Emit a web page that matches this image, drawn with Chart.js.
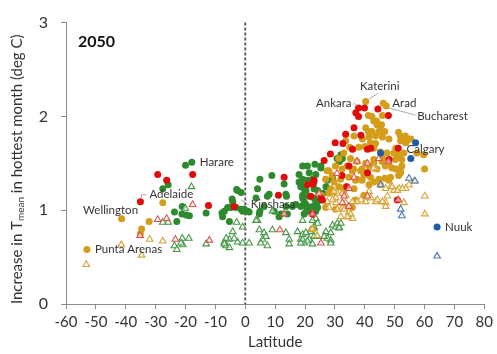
<!DOCTYPE html>
<html>
<head>
<meta charset="utf-8">
<script src="https://cdn.jsdelivr.net/npm/chart.js@4.4.1/dist/chart.umd.min.js"></script>
<style>
  html, body { margin: 0; padding: 0; background: #ffffff; }
  canvas { display: block; }
</style>
</head>
<body>
<canvas id="chart" width="497" height="354"></canvas>
<script>
// Warming of the hottest month by 2050 against city latitude.
// Each list holds [latitude, increase in deg C] pairs.

const greenCircles = [
  [-20,1.48],[-17.9,1.51],[-27.6,1.23],[-25.8,1.27],[-21.1,1.04],[-23.7,0.98],[-22.9,0.88],[-21.2,0.96],
  [-19.8,0.95],[-18.7,0.94],[-13.1,0.97],[-7.8,0.97],[-7,0.99],[-5.9,1.03],[-4.8,1.03],[-5.3,0.88],
  [-2.9,1.22],[-4.4,1.12],[-1.4,1.01],[-7.6,0.93],[-4.2,1.09],[-3.1,1.03],[-0.9,0.99],[0.8,0.99],
  [-2.6,1.21],[-1.4,1.19],[4.9,1.33],[8.9,1.37],[4.1,1.23],[7.4,1.15],[8,1.17],[3.6,1.13],[6.3,1.04],
  [4.7,0.96],[1.3,0.98],[-0.3,1.01],[4.9,0.99],[9.7,0.99],[11.9,0.96],[11.3,0.93],[14.1,0.96],
  [13.6,1.17],[13.8,1.15],[13,1.28],[13.6,1.04],[15.8,1.04],[16.9,1.06],[18,1.38],[18,1.30],[18.6,1.28],
  [19.7,1.23],[20.3,1.21],[20.8,1.47],[23.3,1.49],[21.4,1.40],[23.6,1.38],[25.3,1.47],[23,1.30],
  [24.2,1.21],[19.2,1.13],[20.3,1.06],[21.4,1.03],[19.7,0.96],[23.6,0.99],[24.2,1.09],[19.2,1.47],
  [25.3,1.45],[19.2,1.33],[20.8,1.32],[22.5,1.33],[18.6,1.25],[23,1.23],[19.2,1.16],[21.4,1.15],
  [23,1.13],[19.7,1.09],[23.6,1.09],[18.6,1.04],[20.8,1.03],[22.5,1.04],[24.2,1.03],[20.3,0.98],
  [22.5,0.98],[32,1.59],[32.5,1.55],[30.7,1.55],[29.2,1.35],[27.5,1.32],[31.5,1.52],[26,1.18],[27,1.25]
];

const redCircles = [
  [-29.3,1.38],[-26.3,1.32],[-17.6,1.38],[-35.1,1.09],[-12.3,1.05],[-3.7,1.04],[13,1.35],[11.1,1.16],
  [26.4,1.53],[20.8,1.27],[25.8,1.11],[23,1.32],[25.3,1.13],[22.5,0.96],[22.7,1.28],[21.9,1.15],
  [37.9,2.09],[39.9,2.09],[37,2.04],[37.9,2.00],[44.4,2.08],[47.9,2.01],[36.4,1.88],[33.6,1.81],
  [38.7,1.80],[30.1,1.72],[32.7,1.71],[40.9,1.65],[35.9,1.65],[34.7,1.47],[51.2,1.66],[40.9,1.40],
  [42,1.66],[48.1,1.54],[50.9,1.11],[32.4,1.37],[28.5,1.60],[34,1.25]
];

const orangeCircles = [
  [-27.6,1.08],[-41.4,0.91],[-32.2,0.88],[-34.7,0.80],[-35.1,0.75],[-53,0.58],
  [40.3,2.16],[46.2,2.14],[47.2,2.11],[41.2,2.01],[45.9,2.01],[43.9,1.95],[45.6,1.91],[40.3,1.88],
  [41.2,1.84],[45.2,1.85],[46.7,1.84],[51.3,1.83],[51.9,1.79],[53.6,1.79],[54.1,1.74],[41.4,1.78],
  [39.2,1.76],[41.9,1.72],[43.6,1.71],[36.4,1.79],[33.6,1.74],[35,1.67],[38,1.67],[40,1.68],[43,1.66],
  [45.2,1.62],[47.4,1.61],[49.7,1.61],[51.3,1.59],[52.4,1.54],[57.4,1.61],[59.7,1.59],[60,1.44],
  [33,1.61],[31.3,1.55],[35.2,1.55],[37.4,1.52],[40.3,1.50],[43,1.54],[45.8,1.52],[48,1.50],[50.2,1.54],
  [30.2,1.47],[32.4,1.44],[34.1,1.47],[36.3,1.44],[39.1,1.44],[41.4,1.47],[44.1,1.44],[46.9,1.47],
  [49.1,1.45],[52.4,1.47],[27.4,1.42],[29.1,1.37],[31.9,1.33],[34.7,1.35],[37.4,1.33],[39.7,1.37],
  [41.9,1.35],[44.7,1.33],[46.7,1.34],[48.6,1.35],[51.3,1.37],[51.9,1.42],[48,1.32],[43,1.30],
  [39.1,1.32],[36.9,1.32],[29.7,1.30],[26.9,1.33],[28,1.42],[35.8,1.42],[38.6,1.42],[31.3,1.25],
  [33.6,1.25],[36.4,1.23],[41.4,1.27],[45.2,1.27],[28.6,1.23],[28,1.18],[33,1.21],[29.2,1.20],
  [26.9,1.03],[30.2,1.01],[33,1.04],[35.8,1.03],[36.9,1.11],[39.7,1.16],[42.4,2.00],[43,1.95],
  [44.1,1.91],[42.4,1.84],[44.7,1.84],[43.6,1.79],[45.9,1.78],[48.1,1.76],[55.4,1.76],[52,1.74],
  [53.7,1.72],[50.4,1.66],[53.1,1.61],[51.3,1.57],[50.4,1.44],[52,1.40],[45.9,1.55],[43,1.50],
  [25.4,1.16],[22.5,0.80]
];

const blueCircles = [[57,1.72],[45.3,1.61],[55.4,1.55],[64.2,0.82]];

const redTriangles = [
  [-35.2,0.73],[-29.3,0.90],[-26.3,0.91],[-17.6,1.06],[-23.4,0.69],[-12,0.68],[11.6,0.79],[13,0.96],
  [25.3,0.65],[37.4,1.52],[40.9,1.50],[44.7,1.55],[47.9,1.52],[36.4,1.35],[33.1,1.15],[34.7,1.23],
  [32.5,1.08],[34.7,1.04],[40.9,1.15],[51.2,1.11],[22.5,0.96],[30.7,1.39],[24.7,1.18]
];

const orangeTriangles = [
  [-41.5,0.63],[-32,0.69],[-27.6,0.67],[-34.7,0.52],[-53.2,0.42],
  [43.7,1.44],[60.1,1.15],[60.1,0.96],[56.5,1.31],[54.8,1.27],[53.7,1.23],[51.5,1.23],[49.8,1.21],
  [48.7,1.25],[47,1.23],[47.6,1.15],[47,1.08],[45.9,1.09],[43.7,1.09],[42,1.13],[40.3,1.09],[41.4,1.20],
  [38.7,1.11],[37.5,1.09],[35.9,1.09],[33.6,1.16],[32.5,1.18],[30.8,1.18],[29.7,1.20],[30.3,1.13],
  [32.5,1.03],[30.8,1.01],[32,0.93],[34.7,0.93],[35.9,0.91],[34.7,0.98],[28,1.03],[53.1,1.08],
  [52.6,1.23],[50.9,1.21],[49.2,1.25],[44.2,1.11],[47,1.04],[43,1.45],[30.3,1.08],[29.2,1.11],
  [27.5,1.09],[33.6,1.08],[35.3,0.96],[34.2,0.93],[33.1,1.01],[22.4,0.80],[24,0.73]
];

const blueTriangles = [[52,1.01],[52.4,0.94],[64.2,0.51],[54.8,1.34],[56.8,1.31],[45.3,1.27]];

const greenTriangles = [
  [-18,1.25],[-20.1,1.02],[-27.6,0.87],[-25.8,0.87],[-21.1,0.70],[-18.9,0.70],[-23.7,0.62],[-22.9,0.58],
  [-20.9,0.63],[-21.5,0.65],[-7,0.66],[-5.3,0.69],[-2.9,0.87],[-6.4,0.62],[-2.6,0.66],[-0.9,0.82],
  [-4.2,0.77],[-6.4,0.70],[-7,0.64],[-5.3,0.60],[-13.1,0.64],[-3.7,0.70],[-0.9,0.65],[1.3,0.65],
  [4.1,0.89],[4.7,0.79],[6.3,0.76],[5.8,0.69],[7.4,0.62],[9.1,0.79],[13.6,0.76],[14.7,0.69],[14.7,0.64],
  [17.5,0.77],[18.6,0.69],[19.7,0.65],[21.4,0.69],[22.5,0.64],[24.2,0.72],[23,0.81],[9.1,0.99],
  [3.6,0.89],[6.9,0.72],[5.2,0.65],[19.2,0.74],[22,0.79],[19.2,0.89],[23.6,0.91],[24.2,0.86],[23,0.82],
  [21.9,0.77],[20.3,0.76],[19.2,0.69],[20.8,0.67],[18.6,0.65],[23,0.72],[27,0.77],[28.6,0.76],
  [27.5,0.70],[28.6,0.68],[29.2,0.84],[30.3,0.82],[31.4,0.82],[30.8,0.86],[26.4,0.72],[22.5,0.89],
  [32,0.86],[31.4,0.81],[28.6,0.65]
];

// Named cities and the point each name belongs to
const cityNames = ['Harare','Adelaide','Wellington','Punta Arenas','Kinshasa','Katerini','Ankara','Arad','Bucharest','Calgary','Nuuk'];
const cityLat   = [-17.9, -35.1, -41.4, -53, -4.2, 40.3, 37.9, 46.2, 47.2, 57, 64.2];
const cityValue = [1.51, 1.09, 0.91, 0.58, 1.09, 2.16, 2.09, 2.14, 2.11, 1.72, 0.82];

const xTicks = [-60,-50,-40,-30,-20,-10,0,10,20,30,40,50,60,70,80];
const yTicks = [0,1,2,3];
const panelTitle = '2050';

const FONT = 'Lato, "Open Sans", "DejaVu Sans", sans-serif';

const toPoints = arr => arr.map(p => ({ x: p[0], y: p[1] }));

function circleSet(data, color) {
  return {
    data: toPoints(data), pointStyle: 'circle', pointRadius: 3.5,
    backgroundColor: color, borderColor: color, borderWidth: 0
  };
}
function triangleSet(data, color) {
  return {
    data: toPoints(data), pointStyle: 'triangle', pointRadius: 3.8,
    backgroundColor: 'rgba(255,255,255,0.6)', borderColor: color, borderWidth: 1.1
  };
}

// Placement of each city name relative to its point (pixels)
const labelStyle = {
  'Harare':       { dx: 8,   dy: 0,   align: 'left' },
  'Adelaide':     { dx: 9,   dy: -7,  align: 'left',   leader: [[6,-7],[1,-7],[1,-3]] },
  'Wellington':   { dx: -11, dy: -8,  align: 'center' },
  'Punta Arenas': { dx: 8,   dy: 0,   align: 'left' },
  'Kinshasa':     { dx: 18,  dy: 3,   align: 'left',   leader: [[8,-2],[16,3]] },
  'Katerini':     { dx: 14,  dy: -15, align: 'center', leader: [[3,-2],[12,-8]] },
  'Ankara':       { dx: -7,  dy: -5,  align: 'right',  leader: [[-5,-5],[-1,-2]] },
  'Arad':         { dx: 9,   dy: 0,   align: 'left' },
  'Bucharest':    { dx: 31,  dy: 10,  align: 'left',   leader: [[3,2],[29,9]] },
  'Calgary':      { dx: -9,  dy: 7,   align: 'left' },
  'Nuuk':         { dx: 8,   dy: 0,   align: 'left' }
};

const decorations = {
  id: 'decorations',
  beforeDatasetsDraw(chart) {
    const { ctx, chartArea, scales } = chart;
    const x0 = scales.x.getPixelForValue(0);
    ctx.save();
    ctx.strokeStyle = '#555555';
    ctx.lineWidth = 1.8;
    ctx.setLineDash([3, 2]);
    ctx.beginPath();
    ctx.moveTo(x0, chartArea.top);
    ctx.lineTo(x0, chartArea.bottom);
    ctx.stroke();
    ctx.restore();
  },
  afterDatasetsDraw(chart) {
    const { ctx, chartArea, scales } = chart;
    ctx.save();
    // panel year
    ctx.fillStyle = '#111111';
    ctx.font = 'bold 16px ' + FONT;
    ctx.textAlign = 'left';
    ctx.textBaseline = 'middle';
    ctx.fillText(panelTitle, chartArea.left + 12, chartArea.top + 19);

    // city names
    ctx.font = '11.5px ' + FONT;
    cityNames.forEach((name, i) => {
      const px = scales.x.getPixelForValue(cityLat[i]);
      const py = scales.y.getPixelForValue(cityValue[i]);
      const s = labelStyle[name];
      if (s.leader) {
        ctx.strokeStyle = '#a0a0a0';
        ctx.lineWidth = 0.9;
        ctx.setLineDash([]);
        ctx.beginPath();
        s.leader.forEach((p, k) => {
          if (k === 0) ctx.moveTo(px + p[0], py + p[1]);
          else ctx.lineTo(px + p[0], py + p[1]);
        });
        ctx.stroke();
      }
      ctx.fillStyle = '#333333';
      ctx.textAlign = s.align;
      ctx.textBaseline = 'middle';
      ctx.fillText(name, px + s.dx, py + s.dy);
    });

    // x axis title
    ctx.fillStyle = '#333333';
    ctx.font = '15px ' + FONT;
    ctx.textAlign = 'center';
    ctx.textBaseline = 'middle';
    ctx.fillText('Latitude', (chartArea.left + chartArea.right) / 2, chartArea.bottom + 38);

    // y axis title with subscript
    const big = '15px ' + FONT, small = '10px ' + FONT;
    const parts = [
      { t: 'Increase in T', f: big, off: 0 },
      { t: 'mean', f: small, off: 4 },
      { t: ' in hottest month (deg C)', f: big, off: 0 }
    ];
    let total = 0;
    parts.forEach(p => { ctx.font = p.f; p.w = ctx.measureText(p.t).width; total += p.w; });
    ctx.translate(17, (chartArea.top + chartArea.bottom) / 2 + 6);
    ctx.rotate(-Math.PI / 2);
    ctx.textAlign = 'left';
    let cx = -total / 2;
    parts.forEach(p => {
      ctx.font = p.f;
      ctx.fillText(p.t, cx, p.off);
      cx += p.w;
    });
    ctx.restore();
  }
};

new Chart(document.getElementById('chart'), {
  type: 'scatter',
  data: {
    datasets: [
      triangleSet(blueTriangles, '#4a78b8'),
      circleSet(blueCircles, '#1f5ca6'),
      triangleSet(redTriangles, '#e05050'),
      circleSet(redCircles, '#e00b0b'),
      triangleSet(orangeTriangles, '#d6a436'),
      circleSet(orangeCircles, '#d49d1a'),
      triangleSet(greenTriangles, '#479747'),
      circleSet(greenCircles, '#2d8a2d')
    ]
  },
  options: {
    responsive: false,
    animation: false,
    devicePixelRatio: 1,
    layout: { padding: { left: 0, right: 11, top: 10, bottom: 0 } },
    plugins: { legend: { display: false }, tooltip: { enabled: false } },
    scales: {
      x: {
        type: 'linear', min: -60, max: 80,
        afterBuildTicks: s => { s.ticks = xTicks.map(v => ({ value: v })); },
        afterFit: s => { s.height = 50; },
        border: { display: true, color: '#8c8c8c', width: 1 },
        grid: { display: true, drawOnChartArea: false, drawTicks: true, tickLength: 5, color: '#8c8c8c' },
        ticks: { color: '#333333', font: { family: FONT, size: 15 }, padding: 4, maxRotation: 0, autoSkip: false }
      },
      y: {
        type: 'linear', min: 0, max: 3,
        afterBuildTicks: s => { s.ticks = yTicks.map(v => ({ value: v })); },
        afterFit: s => { s.width = 66; },
        border: { display: true, color: '#8c8c8c', width: 1 },
        grid: { display: true, drawOnChartArea: false, drawTicks: true, tickLength: 5, color: '#8c8c8c' },
        ticks: { color: '#333333', font: { family: FONT, size: 16 }, padding: 13 }
      }
    }
  },
  plugins: [decorations]
});
</script>
</body>
</html>
